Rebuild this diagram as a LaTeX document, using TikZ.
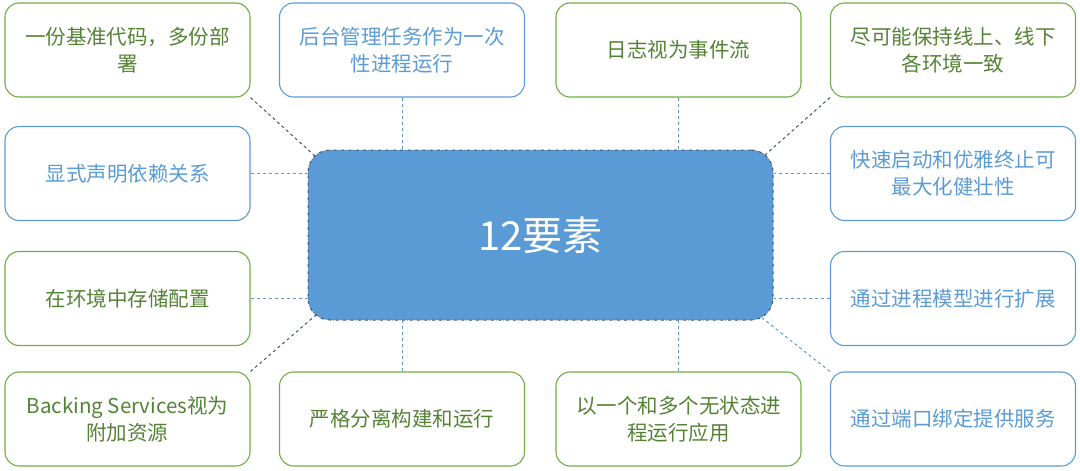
\documentclass[tikz,border=0pt]{standalone}
\usepackage{fontspec}
\setmainfont{Noto Sans CJK SC}
\definecolor{gr}{HTML}{70AD47}
\definecolor{grt}{HTML}{548235}
\definecolor{bl}{HTML}{5B9BD5}
\definecolor{blt}{HTML}{5B9BD5}
\definecolor{dk}{HTML}{44546A}
\begin{document}
\begin{tikzpicture}[x=1pt,y=-1pt,
  gbox/.style={draw=gr,line width=1.1pt,rounded corners=14pt,minimum width=245pt,minimum height=94pt,align=center,font=\fontsize{20.5}{27}\selectfont,text=grt},
  bbox/.style={gbox,draw=bl,text=blt},
  lk/.style={dashed,draw=bl,line width=1pt},
  lkd/.style={dashed,draw=dk,line width=1pt}]
\useasboundingbox (0,0) rectangle (1080,471);
\node[fill=bl,draw=dk,dash dot,line width=1pt,rounded corners=22pt,minimum width=465pt,minimum height=170pt,text=white,font=\fontsize{40}{46}\selectfont] (c) at (540.5,235) {12要素};
\node[gbox] (a1) at (127.5,50) {一份基准代码，多份部\\署};
\node[bbox] (a2) at (402,50) {后台管理任务作为一次\\性进程运行};
\node[gbox] (a3) at (678.5,50) {日志视为事件流};
\node[gbox] (a4) at (953,50) {尽可能保持线上、线下\\各环境一致};
\node[bbox] (l2) at (127.5,173.5) {显式声明依赖关系};
\node[bbox] (r2) at (953,173.5) {快速启动和优雅终止可\\最大化健壮性};
\node[gbox] (l3) at (127.5,298.5) {在环境中存储配置};
\node[bbox] (r3) at (953,298.5) {通过进程模型进行扩展};
\node[gbox] (b1) at (127.5,419) {Backing Services视为\\附加资源};
\node[gbox] (b2) at (402,419) {严格分离构建和运行};
\node[gbox] (b3) at (678.5,419) {以一个和多个无状态进\\程运行应用};
\node[bbox] (b4) at (953,419) {通过端口绑定提供服务};
\coordinate (c1) at (316,157);
\coordinate (c2) at (765,155);
\coordinate (c3) at (316,315);
\coordinate (c4) at (762,318);
\draw[lkd] (a1.south east) -- (c1);
\draw[lk] (a2.south) -- (a2.south |- c.north);
\draw[lk] (a3.south) -- (a3.south |- c.north);
\draw[lkd] (a4.south west) -- (c2);
\draw[lk] (l2.east) -- (l2.east -| c.west);
\draw[lk] (r2.west) -- (r2.west -| c.east);
\draw[lk] (l3.east) -- (l3.east -| c.west);
\draw[lk] (r3.west) -- (r3.west -| c.east);
\draw[lkd] (b1.north east) -- (c3);
\draw[lk] (b2.north) -- (b2.north |- c.south);
\draw[lk] (b3.north) -- (b3.north |- c.south);
\draw[lk] (b4.north west) -- (c4);
\end{tikzpicture}
\end{document}
